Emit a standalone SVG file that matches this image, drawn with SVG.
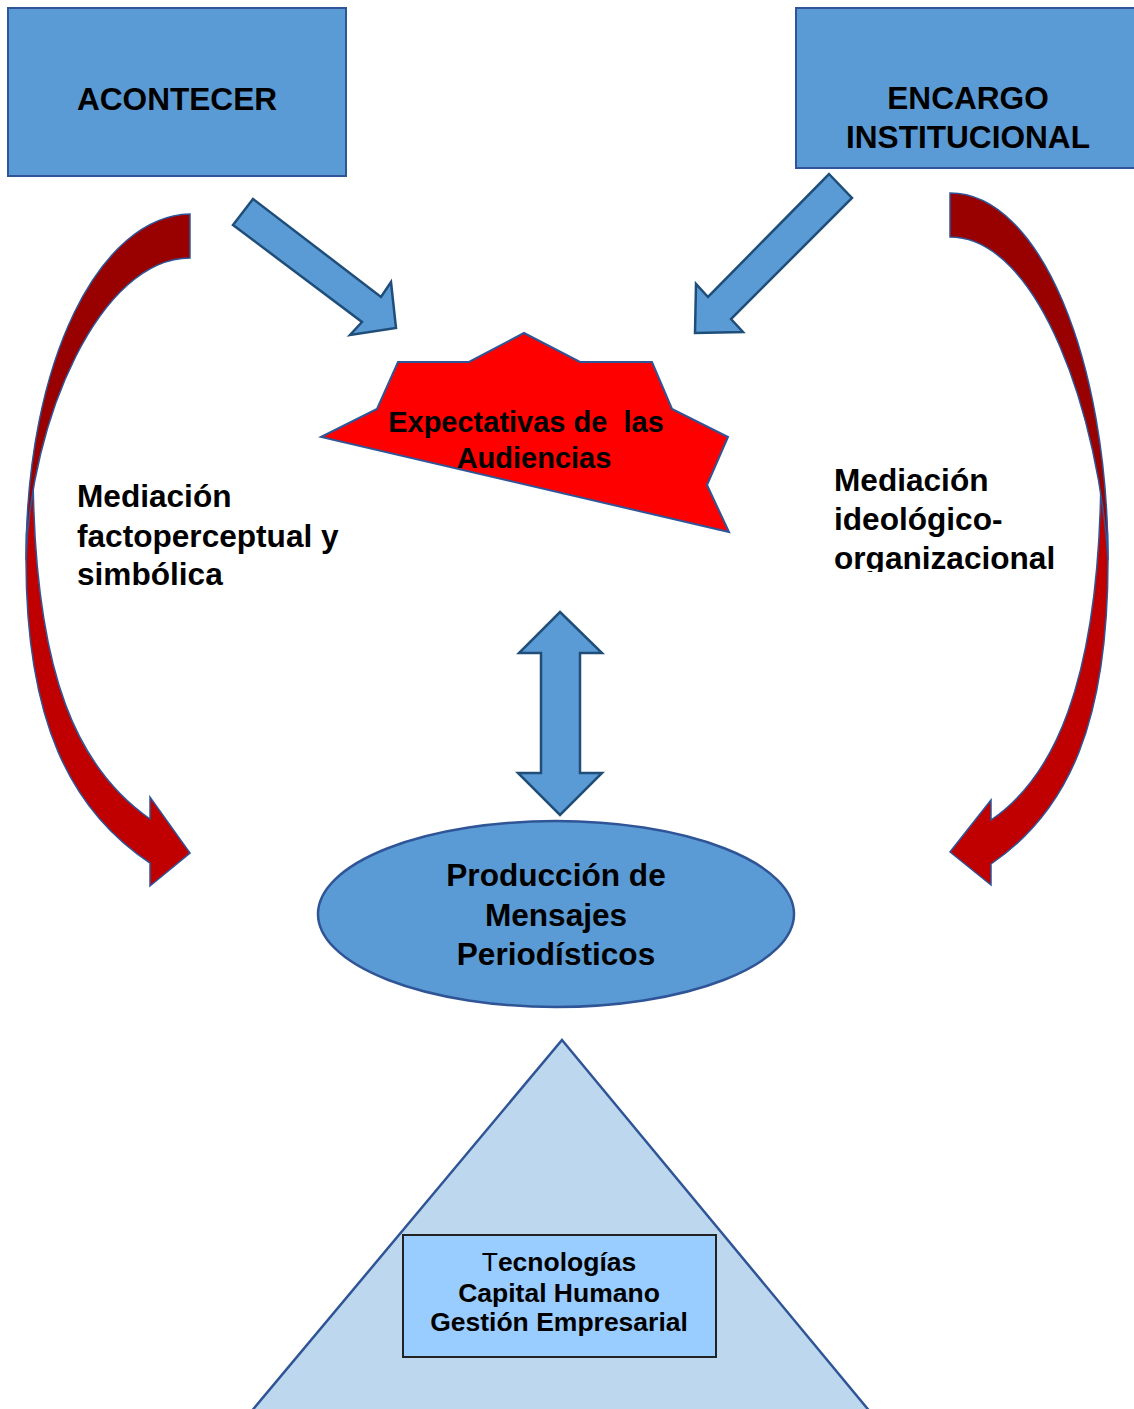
<svg xmlns="http://www.w3.org/2000/svg" width="1134" height="1409" viewBox="0 0 1134 1409">
<style>
.box{fill:#5B9BD5;stroke:#2F5597;stroke-width:2}
.arr{fill:#5B9BD5;stroke:#1F4E79;stroke-width:2.5;stroke-linejoin:miter}
.dk{fill:#990000;stroke:#2F5597;stroke-width:1.5}
.br{fill:#C00000;stroke:#2F5597;stroke-width:1.5}
text{font-family:"Liberation Sans",Arial,sans-serif;font-weight:bold;fill:#000}
.c{text-anchor:middle}
.t{font-size:31.6px}
</style>
<defs>
<clipPath id="clipR"><rect x="820" y="455" width="300" height="117"/></clipPath>
</defs>
<g id="connectors">
<path class="br" d="M33,470 C28,500 26,530 26,560 C26,720 70,810 150,863 L150,886 L190,853 L150,797 L150,819 C80,770 34,680 33,470 Z"/>
<path class="dk" d="M190,214 C100,216 26,360 26,560 C30,420 100,258 190,258 Z"/>
<path class="br" d="M1101,470 C1106,500 1108,530 1108,560 C1108,720 1070,810 991,864 L991,885 L950,852 L991,800 L991,820 C1050,780 1100,690 1101,470 Z"/>
<path class="dk" d="M950,193 C1040,193 1108,360 1108,560 C1100,420 1040,237 950,237 Z"/>
<path class="arr" d="M253,199 L233,225 L362,322 L350,335 L396,328 L391,282 L381,297 Z"/>
<path class="arr" d="M829,174 L852,198 L731,319 L743,332 L695,333 L696,284 L708,297 Z"/>
<path class="arr" d="M560,612 L602,653 L580,653 L580,773 L602,773 L560,815 L518,773 L541,773 L541,653 L519,653 Z"/>
</g>
<g id="acontecer">
<rect class="box" x="8" y="8" width="338" height="168"/>
<text class="c t" x="177" y="110">ACONTECER</text>
</g>
<g id="encargo">
<rect class="box" x="796" y="8" width="345" height="160"/>
<text class="c t" x="968" y="109">ENCARGO</text>
<text class="c t" x="968" y="148">INSTITUCIONAL</text>
</g>
<g id="expectativas">
<path fill="#FF0000" stroke="#2F5597" stroke-width="2" d="M524,333 L580,362 L652,362 L672,409 L728,437 L707,485 L729,532 L321,437 L377,409 L398,362 L469,362 Z"/>
<text class="c" x="526" y="432" font-size="29px" xml:space="preserve" style="white-space:pre">Expectativas de  las</text>
<text class="c" x="534" y="468" font-size="29px">Audiencias</text>
</g>
<g id="mediacion-izq">
<text class="t" x="77" y="507">Mediación</text>
<text class="t" x="77" y="547">factoperceptual y</text>
<text class="t" x="77" y="585">simbólica</text>
</g>
<g id="mediacion-der" clip-path="url(#clipR)">
<text class="t" x="834" y="491">Mediación</text>
<text class="t" x="834" y="530">ideológico-</text>
<text class="t" x="834" y="569">organizacional</text>
</g>
<g id="produccion">
<ellipse cx="556" cy="914" rx="238" ry="93" fill="#5B9BD5" stroke="#2F5597" stroke-width="2.5"/>
<text class="c t" x="556" y="886">Producción de</text>
<text class="c t" x="556" y="926">Mensajes</text>
<text class="c t" x="556" y="965">Periodísticos</text>
</g>
<g id="base">
<path d="M562,1040 L881,1425 L240,1425 Z" fill="#BDD7EE" stroke="#2F5597" stroke-width="2.5"/>
<rect x="403" y="1235" width="313" height="122" fill="#99CCFF" stroke="#222" stroke-width="2"/>
<text class="c" x="559" y="1271" font-size="26.5px"><tspan font-weight="normal">T</tspan>ecnologías</text>
<text class="c" x="559" y="1302" font-size="26.5px">Capital Humano</text>
<text class="c" x="559" y="1331" font-size="26.5px">Gestión Empresarial</text>
</g>
</svg>
